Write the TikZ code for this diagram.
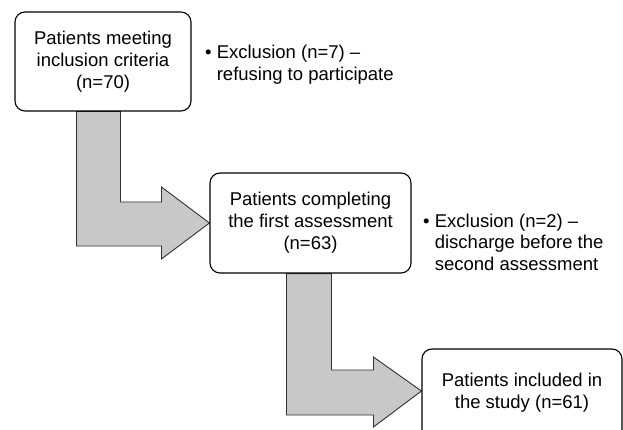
\documentclass[tikz,border=0pt]{standalone}
\usepackage{fontspec}
\setmainfont{Liberation Sans}
\usetikzlibrary{calc,backgrounds}
\definecolor{arrowfill}{RGB}{200,200,200}
\definecolor{arrowline}{RGB}{50,50,50}
\tikzset{
  box/.style={draw=black, line width=1.1pt, rounded corners=10pt, fill=white,
    align=center, inner sep=0pt, font=\fontsize{18.5}{22}\selectfont},
  fatarrow/.style={draw=arrowline, line width=0.9pt, fill=arrowfill, line join=miter},
  note/.style={align=left, inner sep=0pt, anchor=base west, font=\fontsize{18.5}{21.5}\selectfont}
}
\begin{document}
\begin{tikzpicture}[x=1pt,y=-1pt]
\useasboundingbox (0,0) rectangle (623,430);
\node[box, minimum width=176pt, minimum height=99pt] (b1) at (103,61.5)
  {Patients meeting\\inclusion criteria\\(n=70)};
\node[box, minimum width=201pt, minimum height=100pt] (b2) at (310.5,223)
  {Patients completing\\the first assessment\\(n=63)};
\node[box, minimum width=200pt, minimum height=100pt, text height=60pt] (b3) at (522,399)
  {};
\node[align=center, inner sep=0pt, font=\fontsize{18.5}{22}\selectfont] (t3) at (522,393)
  {Patients included in\\the study (n=61)};
\coordinate (tip3) at ($(b3.west)+(0,-8)$);
\node[note] (e1) at (205,80.5) {\textbullet{} Exclusion (n=7) –\\\hphantom{\textbullet{} }refusing to participate};
\node[note] (e2) at (423,270) {\textbullet{} Exclusion (n=2) –\\\hphantom{\textbullet{} }discharge before the\\\hphantom{\textbullet{} }second assessment};
\begin{scope}[on background layer]
\draw[fatarrow] ($(b1.south west)+(62,0)$) coordinate (s1) -- ++(44,0)
  |- ($(b2.west)+(-48,-21)$) -- ($(b2.west)+(-48,-36)$) -- (b2.west)
  -- ($(b2.west)+(-48,36)$) -- ($(b2.west)+(-48,23)$) -| (s1) -- cycle;
\draw[fatarrow] ($(b2.south west)+(77,0)$) coordinate (s2) -- ++(45,0)
  |- ($(tip3)+(-48,-21)$) -- ($(tip3)+(-48,-34)$) -- (tip3)
  -- ($(tip3)+(-48,36)$) -- ($(tip3)+(-48,24)$) -| (s2) -- cycle;
\end{scope}
\end{tikzpicture}
\end{document}
